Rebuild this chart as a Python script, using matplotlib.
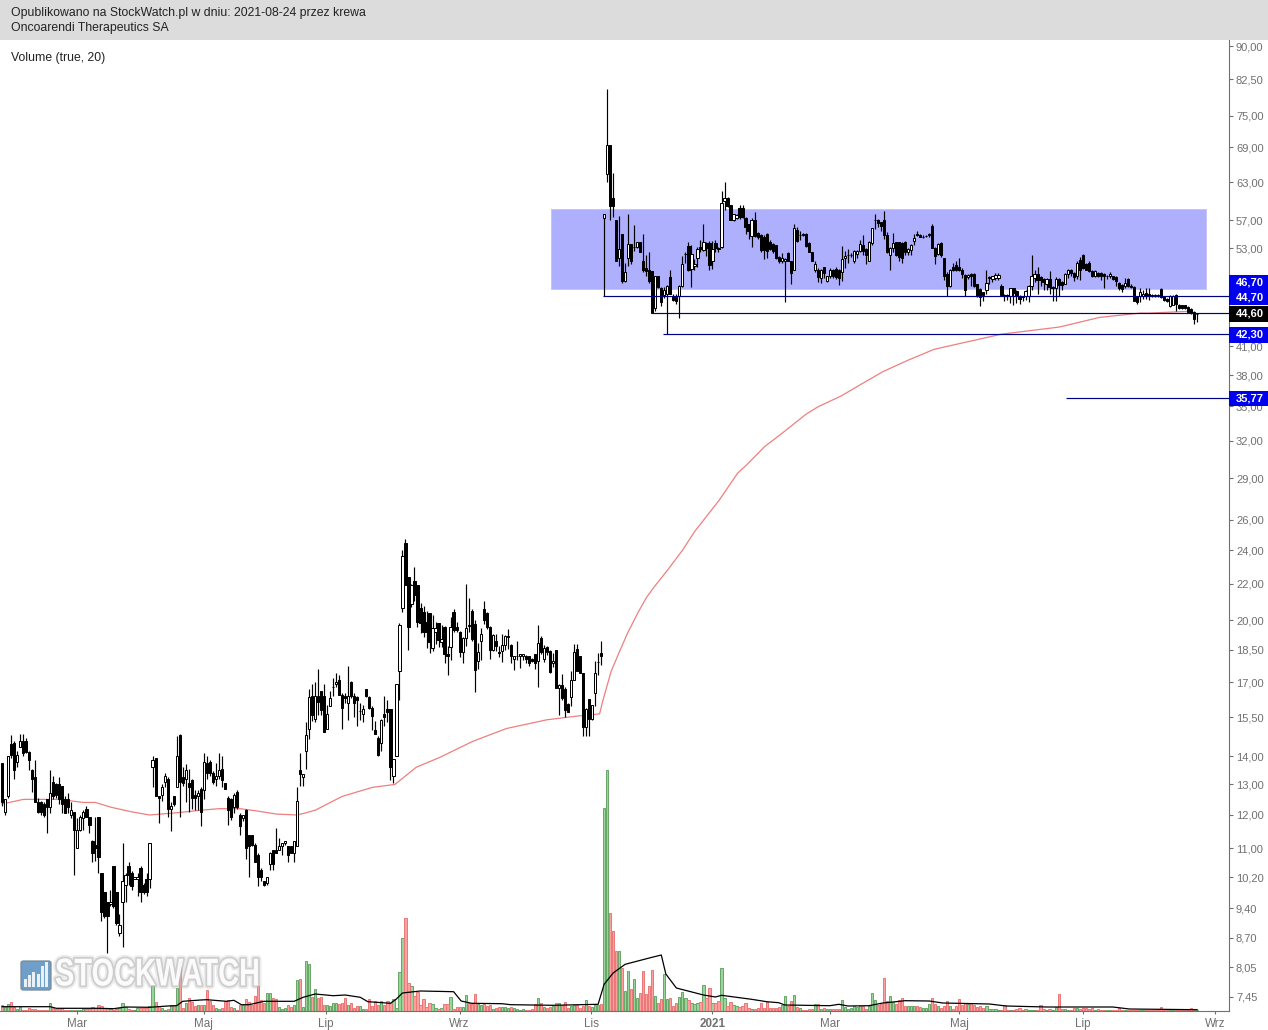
#!/usr/bin/env python3
# -*- coding: utf-8 -*-
import matplotlib
matplotlib.use('Agg')
import matplotlib.pyplot as plt
import matplotlib.patheffects as pe
from matplotlib.patches import Rectangle, FancyBboxPatch
from matplotlib.ticker import NullLocator
from matplotlib.transforms import Affine2D
import numpy as np

#%% Data: candles as (open, high, low, close)
candles_feb_apr = [
    (13.75,13.75,12.3,12.4),(12.1,12.5,12.0,12.5),(12.6,14.0,12.55,14.0),(14.45,14.8,13.95,14.05),(14.5,14.55,13.2,13.5),
    (13.8,14.2,13.6,14.05),(14.35,14.85,14.35,14.55),(14.55,14.85,14.0,14.1),(14.55,14.7,14.1,14.15),(14.15,14.2,13.5,13.85),
    (13.5,13.55,12.75,13.2),(13.25,13.85,12.4,12.4),(12.4,12.55,12.05,12.1),(12.4,12.45,12.0,12.1),(12.35,12.4,11.95,12.0),
    (12.5,12.5,11.45,12.25),(12.25,13.5,12.05,12.7),(13.1,13.3,12.5,12.6),(13.0,13.05,12.55,12.65),(13.0,13.25,12.35,12.5),
    (12.95,12.95,12.05,12.35),(12.5,12.6,12.05,12.05),(12.5,12.7,12.05,12.25),(12.0,12.4,11.9,12.15),(12.1,12.1,10.25,11.55),
    (11.0,11.9,11.0,11.55),(11.55,12.0,11.5,11.95),(11.9,12.15,11.55,12.1),(12.2,12.3,11.95,11.95),(11.95,11.95,11.45,11.7),
    (11.2,11.25,10.6,10.85),(11.1,11.95,10.65,11.0),(11.95,11.95,10.3,10.75),(10.3,10.3,9.1,9.3),(9.8,9.8,9.15,9.2),
    (9.55,9.55,8.35,9.2),(9.5,9.85,9.45,9.55),(10.5,10.5,9.4,9.45),(9.8,9.8,9.0,9.05),(8.8,9.25,8.75,9.0),
    (9.55,11.15,8.5,10.1),(10.0,10.3,9.55,10.25),(10.5,10.6,10.0,10.25),(10.3,10.35,9.85,9.95),(10.15,10.2,10.15,10.2),
    (10.15,10.3,9.7,10.2),(10.45,10.5,9.55,9.8),(10.0,10.05,9.75,9.8),(10.15,10.3,9.7,9.8),(10.15,11.15,9.9,11.15),
]
candles_may_jun = [
    (13.6,14.0,12.9,13.85),(13.95,13.95,12.6,12.6),(12.6,12.6,11.75,12.55),(12.65,13.0,12.45,12.9),(13.1,13.4,12.9,13.3),
    (13.2,13.25,11.95,12.2),(12.2,12.4,11.5,12.3),(12.6,12.6,12.3,12.35),(12.9,14.75,12.9,14.0),(14.8,14.85,11.95,13.1),
    (13.25,13.6,12.95,13.05),(13.2,13.7,12.4,13.5),(13.05,13.55,12.1,12.9),(13.15,13.2,12.2,12.55),(12.65,12.8,12.15,12.55),
    (12.6,12.8,12.15,12.7),(12.85,12.9,11.65,12.1),(12.8,14.1,12.5,13.8),(13.75,14.0,13.2,13.4),(13.8,13.85,13.3,13.4),
    (13.4,13.45,13.0,13.1),(13.2,13.75,12.95,13.3),(13.3,14.1,13.2,13.5),(13.55,14.0,12.9,13.15),(13.05,13.05,12.85,12.85),
    (12.55,12.6,11.7,12.15),(12.5,12.55,11.85,11.95),(12.25,12.7,12.05,12.65),(12.75,12.8,12.2,12.25),(12.0,12.05,11.4,11.65),
    (11.9,12.0,11.8,12.0),(12.15,12.2,10.7,11.0),(11.4,11.4,10.2,11.05),(11.4,11.4,11.05,11.1),(11.1,11.15,10.6,10.6),
    (10.8,10.85,9.95,10.2),(10.4,10.45,10.1,10.2),(10.1,10.1,9.95,10.0),(10.05,10.2,10.0,10.2),(10.55,10.9,10.4,10.85),
    (10.95,10.95,10.4,10.55),(10.95,11.6,10.85,10.85),(10.95,11.3,10.95,11.05),(11.05,11.15,10.8,11.15),(11.15,11.2,11.1,11.2),
    (11.05,11.05,10.6,10.8),(11.05,11.05,10.85,10.85),(10.85,11.2,10.6,11.2),(11.05,12.9,11.05,12.45),(13.5,14.1,12.95,13.35),
    (13.25,13.35,12.95,13.35),(14.2,15.3,13.55,14.8),
]
candles_jul_oct = [
    (15.05,16.7,14.65,16.35),(16.4,16.9,15.35,15.6),(15.45,17.0,15.3,16.4),(16.4,17.6,15.6,16.15),(16.6,16.6,15.6,15.8),
    (16.4,16.9,14.9,14.9),(15.05,16.0,15.05,15.65),(15.95,16.6,15.95,16.3),(16.8,17.2,16.4,16.8),(16.9,17.4,16.8,17.0),
    (17.1,17.3,16.45,16.45),(16.45,16.5,15.05,15.9),(16.4,16.5,16.1,16.3),(16.1,17.75,15.4,16.4),(17.0,17.05,16.3,16.4),
    (16.4,16.5,15.5,16.1),(16.35,16.4,15.15,16.2),(15.75,16.1,15.4,15.75),(15.65,16.0,15.3,15.85),(16.7,16.7,16.35,16.4),
    (16.35,16.4,15.85,15.9),(15.9,15.95,15.0,15.55),(15.0,15.35,14.85,14.85),(14.7,14.75,14.0,14.05),(14.5,15.45,14.2,15.4),
    (15.65,16.4,15.15,15.5),(15.85,16.2,15.3,15.7),(15.85,15.85,13.15,13.6),(13.3,13.9,13.05,13.9),(14.0,16.9,14.0,16.9),
    (17.5,19.85,16.2,19.75),(20.65,24.0,20.4,23.65),(24.5,24.7,21.9,21.9),(22.4,22.4,18.5,19.65),(20.85,22.0,20.7,21.9),
    (22.15,23.0,21.0,21.35),(21.9,21.9,19.65,19.9),(20.65,20.9,19.35,19.85),(20.45,20.75,19.15,19.4),(19.9,20.5,18.6,19.4),
    (20.35,20.35,18.35,18.9),(18.6,20.25,18.45,19.6),(19.4,19.9,18.8,19.6),(19.85,19.85,18.65,19.0),(18.9,19.75,18.65,19.05),
    (19.65,19.7,17.85,18.3),(18.3,18.7,17.3,18.2),(18.65,20.15,18.0,19.65),(20.45,20.6,19.4,19.5),(19.65,19.9,19.4,19.5),
    (19.4,19.45,18.15,18.4),(18.4,19.15,17.85,19.1),(19.1,22.0,18.7,19.6),(19.75,21.2,19.4,19.7),(20.5,20.6,18.95,19.05),
    (19.8,20.0,16.55,17.55),(17.95,18.85,17.6,18.4),(18.95,19.6,18.0,19.3),(20.6,21.0,19.8,20.0),(20.35,20.4,19.55,19.65),
    (19.65,19.7,18.05,18.5),(18.5,19.3,18.45,19.25),(18.95,19.3,18.45,18.7),(18.4,18.7,18.15,18.35),(18.45,19.3,17.9,18.75),
    (18.75,19.25,18.5,19.2),(19.15,19.55,18.55,19.2),(18.75,18.8,17.85,18.2),(18.05,18.2,17.55,18.2),(18.2,18.95,18.0,18.2),
    (18.2,18.3,17.65,18.3),(18.2,18.3,18.0,18.3),(18.2,18.25,17.85,18.05),(18.2,18.2,17.75,17.85),(18.05,18.1,17.9,17.95),
    (18.3,18.3,17.6,17.85),(17.95,19.75,16.8,18.85),(19.1,19.2,18.3,18.4),(18.05,18.75,17.9,18.6),(18.65,18.7,18.25,18.4),
    (18.45,18.5,17.4,17.45),(17.85,18.35,17.7,17.95),(18.5,18.5,16.75,16.75),(16.75,16.9,15.6,16.85),(16.85,17.35,16.2,16.3),
    (16.7,16.8,15.5,15.8),(16.05,16.1,15.7,15.7),(16.35,17.5,15.95,17.1),(17.1,18.8,17.1,18.4),(18.55,18.8,17.5,17.5),
    (18.2,18.2,17.4,17.4),(17.4,17.4,14.75,15.1),(15.1,15.9,14.75,15.85),(16.25,16.25,14.75,15.45),(15.45,16.0,15.4,16.0),
    (16.5,17.95,15.95,17.4),(17.9,18.35,17.3,17.9),(18.35,18.95,17.8,18.2),
]
candles_nov_feb = [
    (57.4,57.95,46.7,57.9),(64.3,80.5,63.0,69.5),(69.5,69.5,57.0,59.2),(60.4,64.5,57.5,59.2),(57.0,57.0,51.2,51.2),
    (51.6,57.7,50.6,52.9),(55.0,55.0,48.4,48.6),(48.6,51.0,48.5,49.8),(51.6,57.9,50.6,53.6),(53.6,53.6,50.8,51.2),
    (53.1,56.3,52.6,53.1),(53.1,53.9,53.0,53.9),(53.9,53.9,52.4,52.5),(51.3,55.0,49.8,50.0),(50.3,52.0,49.2,49.9),
    (50.0,52.4,48.4,48.6),(49.9,49.9,44.7,44.7),(45.3,49.2,45.0,49.2),(49.2,49.2,47.8,47.9),(47.8,47.9,45.5,46.0),
    (46.9,47.9,46.5,47.5),(47.0,48.1,42.3,48.0),(49.1,50.0,47.0,47.0),(46.7,47.0,46.2,46.3),(46.6,47.0,45.8,46.1),
    (46.8,48.1,44.1,48.0),(48.0,51.9,47.9,50.8),(52.2,52.4,51.0,52.2),(53.3,53.9,49.9,50.0),(50.2,53.4,47.9,52.2),
    (50.6,51.5,50.0,50.9),(51.6,53.1,50.5,52.9),(53.1,54.2,52.5,52.9),(52.8,56.4,52.6,53.9),(53.7,53.8,51.9,53.0),
    (53.7,54.0,50.0,50.7),(51.3,54.0,50.2,52.9),(53.7,54.2,52.5,53.0),(53.0,53.1,52.4,52.9),(53.1,61.6,53.0,59.7),
    (59.9,63.0,58.6,60.4),(60.5,60.6,59.1,59.2),(59.3,59.3,57.0,57.1),(57.1,57.9,56.9,57.9),(57.4,58.0,57.2,57.8),
    (58.8,59.3,57.2,57.5),(58.8,59.4,57.3,57.5),(57.3,57.5,55.0,56.0),(56.4,56.5,54.3,55.5),(54.7,57.3,53.2,57.0),
    (57.1,58.2,54.5,54.7),(55.1,55.3,54.3,54.5),(54.8,55.0,52.5,52.8),(54.6,54.8,51.5,52.8),(55.0,55.1,51.6,52.6),
    (53.9,54.1,52.7,52.9),(53.6,53.7,52.3,52.6),(53.4,53.5,51.5,51.6),(51.8,51.9,51.0,51.2),(51.2,52.3,51.0,51.6),
    (51.2,51.6,46.0,51.5),(52.3,52.4,51.2,51.3),(51.2,51.3,48.3,49.7),(50.0,56.4,50.0,55.9),(55.6,56.0,53.9,54.0),
    (54.9,55.5,54.2,54.9),(55.0,55.1,54.7,54.8),(55.0,55.1,53.2,53.3),(53.7,53.8,52.4,52.5),(52.4,52.5,51.2,51.3),
    (50.0,51.3,49.8,50.8),(50.1,50.3,48.5,49.1),(49.0,50.2,48.4,50.0),(50.4,50.5,49.0,49.7),(48.6,49.3,48.5,49.2),
    (49.2,50.3,49.0,50.0),(50.0,50.2,49.0,49.3),(50.2,50.4,48.9,49.1),(50.0,50.2,48.1,49.0),(49.8,53.3,48.6,51.5),
    (51.6,52.6,50.3,51.9),(52.0,52.9,51.0,52.1),(52.1,52.3,51.8,52.1),(51.3,52.8,51.0,52.6),(52.2,52.7,51.6,52.6),
]
candles_mar_aug = [
    (52.6,54.2,52.5,53.6),(53.5,54.8,52.0,52.6),(52.9,53.0,50.9,52.0),(51.2,54.0,51.2,53.8),(53.7,55.9,53.5,55.8),
    (57.0,58.0,55.7,57.1),(57.1,57.2,56.0,56.6),(56.7,56.8,55.5,56.2),(57.1,58.4,54.3,54.9),(54.9,55.3,52.3,52.5),
    (52.0,53.1,50.0,53.0),(53.0,55.2,52.5,53.7),(53.8,53.9,51.9,52.0),(53.8,53.9,51.2,51.8),(53.7,53.8,51.0,51.6),
    (53.8,54.0,52.0,52.5),(52.4,53.0,52.0,52.9),(52.7,53.6,52.0,53.5),(54.0,55.0,53.5,54.4),(55.0,55.4,54.7,54.8),
    (54.8,55.0,54.5,54.6),(54.6,54.9,54.4,54.6),(54.7,54.9,54.5,54.7),(54.8,55.2,54.6,55.0),(56.2,56.4,53.0,53.0),
    (53.0,53.1,50.9,51.9),(52.2,53.7,52.1,53.6),(53.7,53.8,51.8,52.0),(51.6,51.7,48.8,49.2),(49.5,49.8,46.7,48.0),
    (48.0,50.2,47.9,50.1),(50.5,51.0,49.9,50.1),(50.7,51.3,49.9,50.1),(50.4,51.6,49.9,50.1),(50.1,50.3,49.0,49.5),
    (49.4,49.5,46.7,47.5),(49.1,49.5,48.9,49.4),(49.5,49.6,48.0,49.2),(49.5,49.6,47.9,48.0),(48.2,48.3,46.6,46.7),
    (47.6,47.7,45.5,46.6),(47.2,47.3,46.2,46.9),(47.5,50.0,47.0,48.4),(49.0,49.2,48.2,49.1),(48.9,49.3,48.5,49.2),
    (49.0,49.6,48.8,49.4),(49.0,49.6,48.8,49.4),(48.0,48.2,46.7,46.9),(46.9,47.0,46.2,46.7),(46.9,47.0,46.3,46.7),
    (46.8,47.8,45.9,47.7),(47.7,47.8,45.7,47.1),(47.4,47.5,45.9,46.8),(46.8,46.9,45.8,46.4),(46.7,46.8,46.2,46.6),
    (46.7,47.5,46.3,47.4),(46.7,48.1,46.0,48.0),(48.0,52.0,47.5,49.2),(49.0,50.0,48.5,49.5),(49.5,50.5,47.0,48.7),
    (49.1,49.2,48.0,48.7),(48.9,49.0,47.5,48.5),(48.3,49.0,47.5,48.9),(48.9,49.9,47.0,47.9),(47.7,48.0,46.1,47.9),
    (47.7,49.1,46.2,48.9),(48.9,49.0,46.8,48.1),(48.5,48.6,47.5,48.1),(48.3,49.6,48.2,49.5),(49.5,50.2,49.0,50.1),
    (50.1,50.2,49.2,49.7),(49.7,49.8,48.6,49.1),(49.2,51.2,48.9,51.0),(51.4,51.8,48.8,50.1),(52.0,52.2,50.2,50.3),
    (50.9,51.0,50.0,50.1),(51.0,51.2,49.8,49.9),(49.9,50.0,49.1,49.2),(49.2,50.0,49.1,49.9),(49.7,49.8,49.1,49.2),
    (49.6,49.8,48.7,49.2),(49.5,49.6,47.7,49.2),(49.2,49.4,48.9,49.2),(49.2,49.8,49.0,49.5),(49.2,49.3,48.7,48.9),
    (49.1,49.2,48.0,48.6),(48.4,48.5,47.5,47.8),(48.1,48.2,47.3,47.6),(48.0,49.0,47.8,48.4),(48.9,49.0,47.9,48.0),
    (48.0,48.2,47.7,47.9),(47.9,48.0,46.1,46.2),(46.7,46.8,45.8,46.0),(46.8,47.7,46.0,47.2),(46.7,47.5,46.4,47.0),
    (47.1,47.8,46.4,46.8),(47.0,47.8,46.3,46.7),(46.9,47.0,46.6,46.7),(46.9,47.0,46.6,46.7),(46.9,47.0,46.6,46.7),
    (47.6,47.7,46.5,46.6),(46.6,46.7,46.2,46.3),(46.4,46.5,46.0,46.1),(45.5,46.9,45.4,46.8),(45.7,46.9,45.7,46.8),
    (46.9,47.0,44.9,45.8),(45.6,45.8,45.2,45.3),(45.6,45.7,45.2,45.3),(45.6,45.7,45.2,45.3),(45.4,45.5,44.7,44.8),
    (45.2,45.3,44.6,44.7),(44.8,44.9,43.4,44.0),(44.55,44.7,43.7,44.6),
]

volume_feb_apr = [5.6,3.6,7,9,3.7,1.7,4.3,1,1.3,3, 2.3,1.7,1,1,1,1,8,2.7,1.7,1.7, 3.3,1.3,1.3,1,1,1,1,2,2,2,
                  4.3,3,5.7,5,3,2.7,1.7,1,2.3,3, 8,4,2,1,1,3,3,3,3,5]
volume_may_jun = [26,9,4.7,2.7,1.3,1.7,5.7,5.7,23,49, 3,8,12.7,9,5,6,6.3,6.3,21,10, 5.7,2.7,1.7,3,10,11,4.3,2.7,1,6,
                  5.7,12,9,6,15,25,11,7.7,18,18, 13,12,3.7,2.3,3,5.7,3.7,6.3,31,32]
volume_jul_aug = [4.3,50,47,14,22,13,14,6,6,5, 8,8,7.3,8,13,5.7,7.7,3,5,5, 1.7,1.7,12,5,10,5.7,10,6.3,10,8.3,
                  12,2.7,39,73,93,28,25,15,19,6, 12,4,8,7,3,2.5,3.5,7,7,14]
volume_sep_oct = [2.5,4,4.5,4.5,16,8,7,17,7,6, 7,5,6,2.5,3,4,4,4,3,4.5, 3.5,2.5,1.5,2.5,1.5,1.5,2.5,7,13,8,
                  4,3,4,5,8,8,6,9,3,5, 6.5,6,3,5,11,5,4.5,6,6,7]
volume_nov_jan = [203,241,98,80,60,60,43,20,40,22, 32,13,18,40,17,25,41,15,8,12, 37,12,13,5,8,14,19,13,11,8,
                  7,8,9,26,13,23,8,8,10,43, 13,5,9,6,5,4,5,8,3,2.5]
volume_jan_mar = [2.5,3,8,3,9,3,3.5,3.5,4,6, 15,5,10,16,4,3,1,1,2.5,2, 7,7,2,3,2.5,2.5,2.5,2.5,2.5,11,
                  4,2,3.5,5,4.3,4.7,5.3,2.3,4.7,18, 11,6,7,33,10,15,9,6.7,11,13]
volume_mar_jun = [4.7,5.3,5.3,5.3,5.3,3.7,3,3,7,13, 7,4.7,3,5.3,10,5.3,2,5.3,12,5.7, 8,7,8,6,4,5.3,2.7,5.3,2.3,2,
                  2,1.3,1.3,6,1.3,1.3,1.3,2.3,2.7,1.3, 2.3,1.3,1,1,1,6,2,1.3,2,1.3]
volume_jun_aug = [4,17,2.3,2,1.3,0.7,3.3,2.7,2,3, 3,2,3.3,1.3,2,1.3,1.3,1.3,1.3,1.3, 1.3,2.7,1.3,1.3,1.3,1.3,1.3,1.3,1.3,1.3,
                  1.3,1.3,1.3,1.3,1.3,4,1.3,1.3,1.3,1.3, 1.3,1.3,1.3,1.3,1.3,3,1,1]

# red long average on the price panel
price_ma_idx = [0,7,19,27,31,36,43,49,58,66,72,79,84.5,91,98,101,104,113,123,130.5,137.6,145.3,156.3,167.5,181,191,
                198.5,199.5,202.3,205.1,207.8,211.2,214,216.7,221.1,226.1,230,238.3,244.4,247.2,253.3,258.8,267.1,271,
                278.7,285.4,292.6,300.9,309.7,332,351.3,364.6,378,381,393.4]
price_ma_val = [12.35,12.5,12.5,12.4,12.4,12.25,12.1,12.0,12.07,12.15,12.2,12.2,12.13,12.03,12.0,12.07,12.15,
                12.6,12.9,13.0,13.6,13.95,14.55,15.05,15.4,15.55,
                15.64,16.15,17.47,18.41,19.33,20.38,21.2,21.83,22.8,24.03,25.2,27.4,29.4,30.0,31.5,32.56,34.3,34.96,
                35.97,37.1,38.34,39.5,40.66,42.3,43.1,44.2,44.7,44.7,44.9]
# black 20 day average on the volume panel
volume_ma_idx = [0,16,18,32,37,41,49,55,58,60,66,68,74.5,77,79.5,82,87,97,100,104,110,114,119,121.5,129,131,133,138,
                 139,150,152.5,156,166,169,183,198,200,203,207,215,219,220.5,224,233,237,239,249,254,258,260,275,
                 278,281,288,292.6,296,300,308,312.5,328,333.6,347,369,374.5,397]
volume_ma_val = [4.3,4.3,2.7,2.7,2.3,4,3.7,5,5.3,9.7,11,11.3,9.7,10.7,6.3,6.3,9.7,9.7,13.7,17,15.3,16,13.7,9.3,7.7,12,18,19.7,
                 20,19.3,10,7.7,7.3,6.3,5.7,6.7,26.7,38,46.7,53,56,37,23,16,14,15.7,11.7,9.3,8.3,6,5.3,
                 6.7,5,5.3,8,9,10.3,10,8,7,5,4,4,2,1.3]

price_ticks = [90,82.5,75,69,63,57,53,41,38,35,32,29,26,24,22,20,18.5,17,15.5,14,13,12,11,10.2,9.4,8.7,8.05,7.45]
month_ticks = [25,67,107.6,152,195.8,236,275,318,359,403]
month_labels = ['Mar','Maj','Lip','Wrz','Lis','2021','Mar','Maj','Lip','Wrz']

# level lines: price, first candle of the line
level_prices = [46.7,44.7,42.3,35.77]
level_starts = [199.5,216,219.5,353.6]
# price boxes on the right: price position, text, colour
box_prices = [48.45,46.65,44.65,42.25,35.74]
box_labels = ['46,70','44,70','44,60','42,30','35,77']
box_colors = ['#0000ee','#0000ee','#000000','#0000ee','#0000ee']
zone_from, zone_to, zone_low, zone_high = 182.5, 399.8, 47.6, 58.7

#%% Build
W, H = 1268, 1030
candles = np.array(candles_feb_apr + candles_may_jun + candles_jul_oct + candles_nov_feb + candles_mar_aug)
volumes = np.array(volume_feb_apr + volume_may_jun + volume_jul_aug + volume_sep_oct
                   + volume_nov_jan + volume_jan_mar + volume_mar_jun + volume_jun_aug)
n = min(len(candles), len(volumes))
candles, volumes = candles[:n], volumes[:n]
o, h, l, c = candles.T
idx = np.arange(n)
up = c >= o

plt.rcParams['font.family'] = ['Liberation Sans', 'DejaVu Sans']
fig = plt.figure(figsize=(W/100, H/100), dpi=100, facecolor='white')


def fx(px):
    return px/W


def fy(py):
    return 1 - py/H


class Squeezed(pe.AbstractPathEffect):
    """Narrows the glyphs around x0 (pixels) and puts a soft grey edge behind them."""

    def __init__(self, x0, sx):
        super().__init__()
        self.x0, self.sx = x0, sx

    def draw_path(self, renderer, gc, tpath, affine, rgbFace=None):
        squeeze = affine + Affine2D().translate(-self.x0, 0).scale(self.sx, 1).translate(self.x0, 0)
        for lw, alpha in ((5, 0.25), (2.5, 0.55)):
            edge = renderer.new_gc()
            edge.copy_properties(gc)
            edge.set_linewidth(lw)
            edge.set_foreground('#b4b4b4')
            edge.set_alpha(alpha)
            renderer.draw_path(edge, tpath, squeeze, None)
            edge.restore()
        renderer.draw_path(gc, tpath, squeeze, rgbFace)


rect = [0, fy(1011), fx(1229), fy(40) - fy(1011)]
vax = fig.add_axes(rect)
ax = fig.add_axes(rect)
ax.patch.set_visible(False)
XLIM = (-0.7, 407.6)

#%% Volume panel
vax.set_xlim(*XLIM)
vax.set_ylim(0, 971)
vax.axis('off')
vax.bar(idx[up], volumes[up], width=0.74, color='#98d598', edgecolor='#6aa86a', linewidth=0.72)
vax.bar(idx[~up], volumes[~up], width=0.74, color='#ffa0a0', edgecolor='#ea7a7a', linewidth=0.72)
vax.plot(volume_ma_idx, volume_ma_val, color='black', lw=0.9, zorder=5)

#%% Price panel
ax.set_yscale('log')
ax.set_xlim(*XLIM)
ax.set_ylim(7.18, 91.43)
ax.add_patch(Rectangle((zone_from, zone_low), zone_to - zone_from, zone_high - zone_low,
                       facecolor='#aeaffd', edgecolor='#c4c4fb', lw=0.7, zorder=1))
ax.plot(price_ma_idx, price_ma_val, color='#ee7f7f', lw=0.9, zorder=2)
ax.vlines(idx, l, h, color='black', lw=0.85, zorder=3)
ax.bar(idx, c - o, bottom=o, width=0.74, color=np.where(up, 'white', 'black'),
       edgecolor='black', linewidth=0.72, zorder=4)
for price, start in zip(level_prices, level_starts):
    ax.hlines(price, start, XLIM[1], color='#000085', lw=0.85, zorder=5)

ax.spines['top'].set_visible(False)
ax.spines['left'].set_visible(False)
ax.spines['right'].set_color('#707070')
ax.spines['bottom'].set_color('#707070')
ax.yaxis.tick_right()
ax.set_yticks(price_ticks)
ax.set_yticklabels([('%.2f' % t).replace('.', ',') for t in price_ticks])
ax.yaxis.set_minor_locator(NullLocator())
ax.set_xticks(month_ticks, month_labels)
ax.tick_params(axis='y', length=3, width=0.8, color='#707070', labelcolor='#707070', labelsize=8, pad=2)
ax.tick_params(axis='x', length=2.2, width=0.8, color='#707070', labelcolor='#707070', labelsize=8.4, pad=2.5)
ax.get_xticklabels()[5].set_fontweight('bold')

#%% Header and price boxes
fig.add_artist(Rectangle((0, fy(40)), 1, 40/H, transform=fig.transFigure, facecolor='#dcdcdc', edgecolor='none', zorder=8))
fig.text(fx(11), fy(13), 'Opublikowano na StockWatch.pl w dniu: 2021-08-24 przez krewa',
         fontsize=8.82, color='#222222', va='center', zorder=9)
fig.text(fx(11), fy(28), 'Oncoarendi Therapeutics SA', fontsize=8.82, color='#222222', va='center', zorder=9)
fig.text(fx(11), fy(57.5), 'Volume (true, 20)', fontsize=8.82, color='#222222', va='center', zorder=9)

for price, label, colour in zip(box_prices, box_labels, box_colors):
    _, py = ax.transData.transform((0, price))
    fig.add_artist(Rectangle((fx(1229), py/H - 8/H), 39/W, 15.5/H, transform=fig.transFigure,
                             facecolor=colour, edgecolor='none', zorder=8))
    fig.text(fx(1236), py/H - 0.3/H, label, color='white', fontsize=8, fontweight='bold', va='center', zorder=9)

#%% Watermark
fig.add_artist(FancyBboxPatch((fx(21), fy(990)), 30/W, 29/H, boxstyle='round,pad=0,rounding_size=0.002',
                              transform=fig.transFigure, facecolor='#5f94c4', edgecolor='#7a8a99', lw=1, alpha=0.9, zorder=6))
for k, bar_h in enumerate([8, 12, 15, 13, 21, 25]):
    fig.add_artist(Rectangle((fx(24 + 4.2*k), fy(987)), 3/W, bar_h/H, transform=fig.transFigure,
                             facecolor='white', edgecolor='none', alpha=0.85, zorder=7))
fig.text(fx(55), fy(975.5), 'STOCKWATCH', fontsize=28, fontweight='bold', color='white', va='center', ha='left',
         alpha=0.92, zorder=7, path_effects=[Squeezed(55, 0.745)])

plt.savefig('out.png', dpi=100)
